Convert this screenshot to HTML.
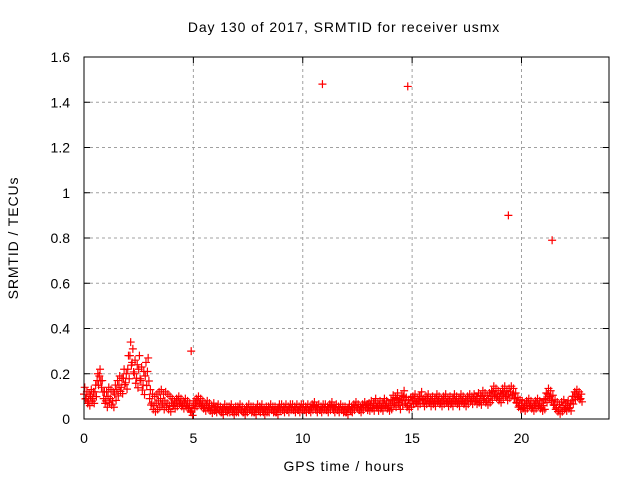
<!DOCTYPE html>
<html><head><meta charset="utf-8"><style>
body{margin:0;background:#fff}
svg{display:block;font-family:"Liberation Sans",sans-serif}
</style></head><body>
<svg id="chart" width="640" height="480" viewBox="0 0 640 480">
<rect width="640" height="480" fill="#fff"/>
<text x="344" y="32" font-size="14" letter-spacing="0.9" text-anchor="middle">Day 130 of 2017, SRMTID for receiver usmx</text>
<text x="344" y="471" font-size="14" letter-spacing="0.9" text-anchor="middle">GPS time / hours</text>
<text x="0" y="0" font-size="14" letter-spacing="0.9" text-anchor="middle" transform="translate(18,238) rotate(-90)">SRMTID / TECUs</text>
<g id="grid"></g>
<g id="axes"></g>
<g id="points"></g>
<rect x="84" y="57" width="525" height="362" fill="none" stroke="#000" stroke-width="1"/>
</svg>
<script>
const xTicks=[0,5,10,15,20];
const yTicks=[0,0.2,0.4,0.6,0.8,1,1.2,1.4,1.6];
const yTickLabels=["0","0.2","0.4","0.6","0.8","1","1.2","1.4","1.6"];
const tStep=0.1;
const values=[0.11,0.09,0.08,0.10,0.09,0.12,0.17,0.19,0.14,0.09,
0.08,0.10,0.09,0.08,0.11,0.13,0.15,0.14,0.18,0.16,
0.22,0.28,0.25,0.20,0.18,0.22,0.17,0.15,0.19,0.21,
0.09,0.07,0.06,0.07,0.08,0.09,0.07,0.08,0.07,0.06,
0.07,0.06,0.07,0.08,0.07,0.06,0.07,0.06,0.05,0.03,
0.06,0.07,0.08,0.07,0.06,0.05,0.06,0.05,0.04,0.05,
0.04,0.05,0.04,0.03,0.05,0.04,0.04,0.05,0.03,0.04,
0.04,0.05,0.04,0.03,0.04,0.05,0.04,0.04,0.03,0.05,
0.04,0.05,0.03,0.04,0.04,0.05,0.04,0.04,0.03,0.05,
0.05,0.04,0.05,0.04,0.05,0.05,0.04,0.05,0.04,0.05,
0.05,0.04,0.05,0.04,0.05,0.06,0.04,0.05,0.04,0.05,
0.05,0.04,0.05,0.06,0.04,0.05,0.04,0.05,0.04,0.04,
0.03,0.05,0.04,0.05,0.06,0.05,0.04,0.05,0.06,0.05,
0.05,0.06,0.05,0.07,0.05,0.06,0.05,0.07,0.06,0.05,
0.06,0.08,0.07,0.09,0.06,0.08,0.10,0.07,0.06,0.07,
0.08,0.09,0.07,0.08,0.10,0.07,0.08,0.09,0.07,0.08,
0.07,0.09,0.08,0.07,0.08,0.09,0.07,0.08,0.07,0.09,
0.08,0.07,0.09,0.08,0.07,0.08,0.09,0.08,0.09,0.08,
0.09,0.08,0.10,0.09,0.08,0.09,0.10,0.12,0.11,0.10,
0.09,0.11,0.12,0.10,0.11,0.12,0.11,0.09,0.07,0.06,
0.06,0.05,0.06,0.07,0.06,0.05,0.06,0.07,0.06,0.05,
0.06,0.09,0.11,0.10,0.08,0.06,0.05,0.04,0.05,0.06,
0.05,0.06,0.05,0.08,0.10,0.11,0.10,0.09];
// scatter half-width per hour
const hourlySpread=[0.03,0.04,0.06,0.04,0.02,0.02,0.015,0.015,0.015,0.015,0.015,0.015,0.015,0.02,0.025,0.02,0.02,0.02,0.025,0.025,0.02,0.025,0.02];
const outlierTimes=[4.9,10.9,14.8,19.4,21.4];
const outlierValues=[0.30,1.48,1.47,0.90,0.79];
const NS="http://www.w3.org/2000/svg";
const X0=84,X1=609,Y0=419,Y1=57,XMAX=24,YMAX=1.6;
function xs(t){return X0+(X1-X0)*t/XMAX;}
function ys(v){return Y0-(Y0-Y1)*v/YMAX;}
function mk(tag,attrs,parent){const e=document.createElementNS(NS,tag);for(const k in attrs)e.setAttribute(k,attrs[k]);parent.appendChild(e);return e;}
const grid=document.getElementById('grid'),axes=document.getElementById('axes'),pts=document.getElementById('points');
xTicks.forEach(t=>{const x=xs(t);
 if(t>0){const g=mk('line',{x1:x,x2:x,y1:Y1,y2:Y0,stroke:'#a0a0a0','stroke-dasharray':'3,3'},grid);
 
 }
 mk('line',{x1:x,x2:x,y1:Y0,y2:Y0-6,stroke:'#000'},axes);
 mk('line',{x1:x,x2:x,y1:Y1,y2:Y1+6,stroke:'#000'},axes);
 const l=mk('text',{x:x,y:443,'font-size':14,'text-anchor':'middle'},axes);l.textContent=t;
 
 });
yTicks.forEach((v,i)=>{const y=ys(v);
 if(v>0&&v<YMAX){const g=mk('line',{x1:X0,x2:X1,y1:y,y2:y,stroke:'#a0a0a0','stroke-dasharray':'3,3'},grid);
 
 }
 mk('line',{x1:X0,x2:X0+6,y1:y,y2:y,stroke:'#000'},axes);
 mk('line',{x1:X1,x2:X1-6,y1:y,y2:y,stroke:'#000'},axes);
 const l=mk('text',{x:70,y:y+5,'font-size':14,'text-anchor':'end'},axes);l.textContent=yTickLabels[i];
 
 });
function plus(t,v){const x=xs(t),y=ys(Math.max(0,v));
 const p=mk('path',{d:`M${x-4},${y}H${x+4}M${x},${y-4}V${y+4}`,stroke:'#f00','stroke-width':1.2,fill:'none'},pts);
 
 }
values.forEach((v,i)=>{const t=i*tStep;const s=hourlySpread[Math.min(hourlySpread.length-1,Math.floor(t))];
 plus(t,v);plus(t+tStep/3,v+s);plus(t+2*tStep/3,v-s*0.7);});
outlierTimes.forEach((t,i)=>plus(t,outlierValues[i]));
</script>
</body></html>
